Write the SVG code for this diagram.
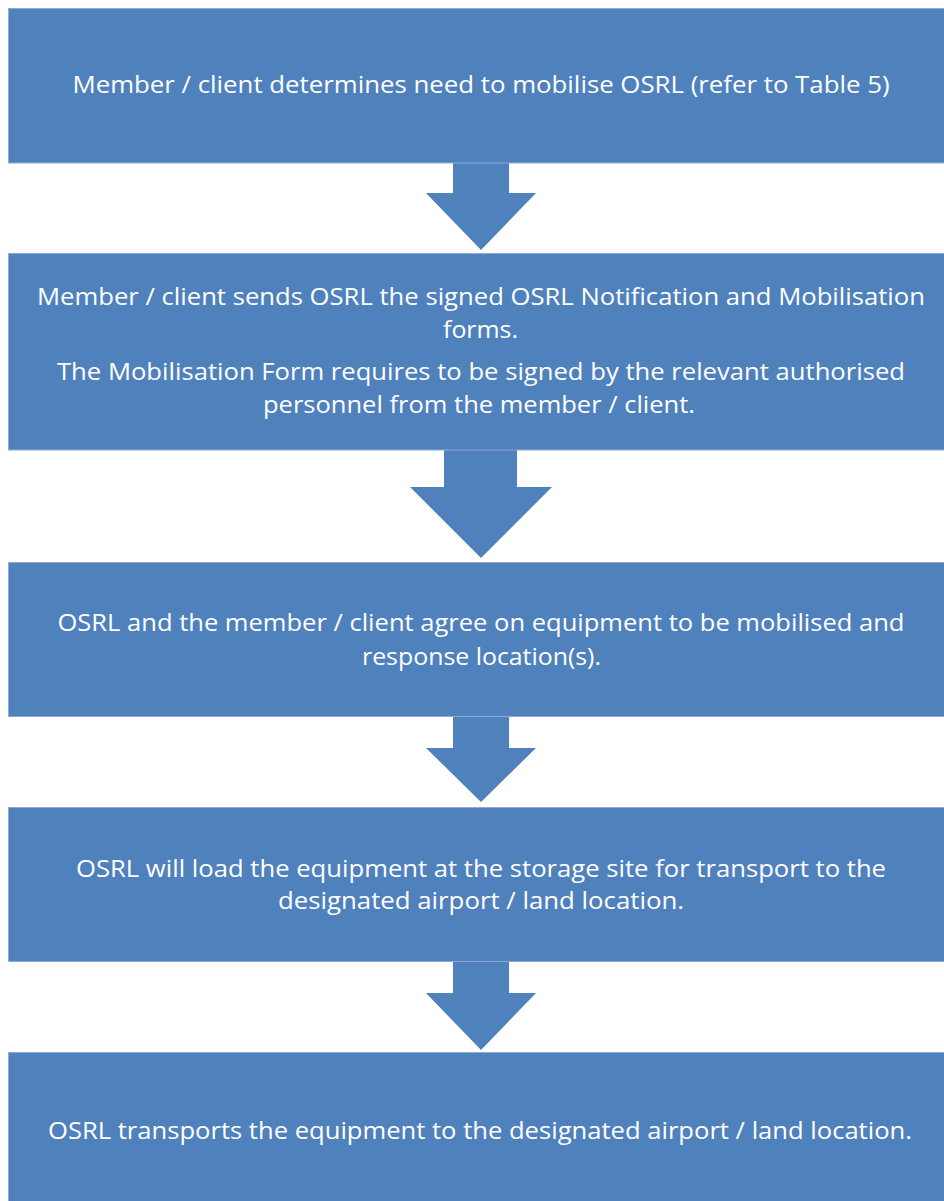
<svg xmlns="http://www.w3.org/2000/svg" width="944" height="1201" viewBox="0 0 944 1201">
<style>
.box{fill:#4F81BD;stroke:#8FAAD6;stroke-width:1}
.arr{fill:#4F81BD}
.t{font-family:"Open Sans","Noto Sans","DejaVu Sans",sans-serif;font-size:24px;fill:#FFFFFF;text-anchor:middle}
</style>
<rect x="0" y="0" width="944" height="1201" fill="#FFFFFF"/>
<g id="connectors">
<polygon class="arr" points="453,162 509,162 509,193 536,193 481,250 426,193 453,193"/>
<polygon class="arr" points="444,449 517,449 517,487 552,487 481,558 410,487 444,487"/>
<polygon class="arr" points="453,716 509,716 509,748 536,748 481,802 426,748 453,748"/>
<polygon class="arr" points="453,961 509,961 509,993 536,993 481,1050 426,993 453,993"/>
</g>
<g id="node1">
<rect class="box" x="8.5" y="8.5" width="950" height="154.5"/>
<text class="t" x="481" y="93" textLength="817" lengthAdjust="spacingAndGlyphs">Member / client determines need to mobilise OSRL (refer to Table 5)</text>
</g>
<g id="node2">
<rect class="box" x="8.5" y="253.5" width="950" height="196.5"/>
<text class="t" x="481" y="305" textLength="888" lengthAdjust="spacingAndGlyphs">Member / client sends OSRL the signed OSRL Notification and Mobilisation</text>
<text class="t" x="480.5" y="337.5" textLength="75" lengthAdjust="spacingAndGlyphs">forms.</text>
<text class="t" x="481" y="380" textLength="848" lengthAdjust="spacingAndGlyphs">The Mobilisation Form requires to be signed by the relevant authorised</text>
<text class="t" x="479" y="412.5" textLength="432" lengthAdjust="spacingAndGlyphs">personnel from the member / client.</text>
</g>
<g id="node3">
<rect class="box" x="8.5" y="562.5" width="950" height="154"/>
<text class="t" x="481" y="631" textLength="847" lengthAdjust="spacingAndGlyphs">OSRL and the member / client agree on equipment to be mobilised and</text>
<text class="t" x="481.5" y="664.5" textLength="239" lengthAdjust="spacingAndGlyphs">response location(s).</text>
</g>
<g id="node4">
<rect class="box" x="8.5" y="807.5" width="950" height="154"/>
<text class="t" x="481" y="876.5" textLength="810" lengthAdjust="spacingAndGlyphs">OSRL will load the equipment at the storage site for transport to the</text>
<text class="t" x="481" y="909" textLength="406" lengthAdjust="spacingAndGlyphs">designated airport / land location.</text>
</g>
<g id="node5">
<rect class="box" x="8.5" y="1052.5" width="950" height="160"/>
<text class="t" x="480" y="1139" textLength="864" lengthAdjust="spacingAndGlyphs">OSRL transports the equipment to the designated airport / land location.</text>
</g>
</svg>
